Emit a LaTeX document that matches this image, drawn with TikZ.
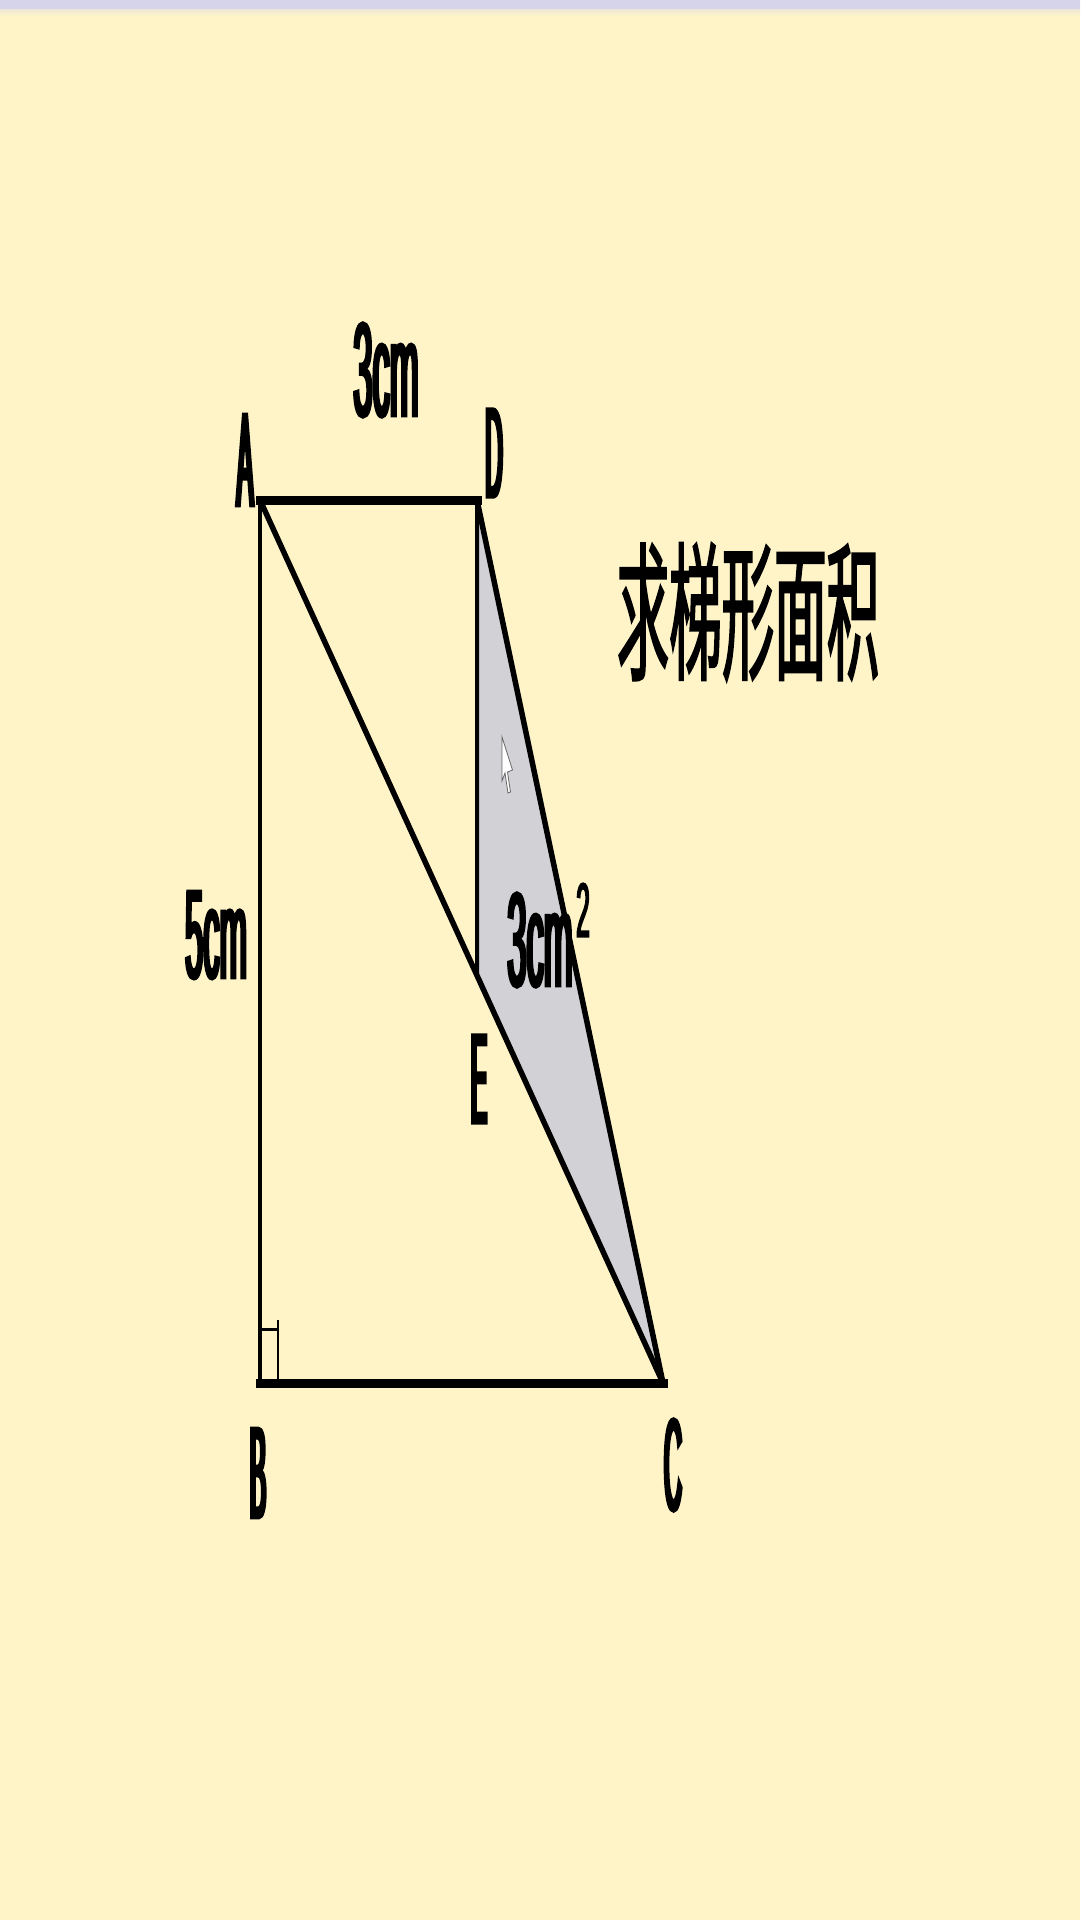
\documentclass[tikz,border=0pt]{standalone}
\usepackage{fontspec}
\usetikzlibrary{calc}
\setmainfont{Liberation Sans}
\newfontfamily\cjkfont{Noto Sans CJK SC}[FakeStretch=0.35, FakeBold=1.1]
\newfontfamily\lettfont{Liberation Sans}[FakeStretch=0.19, FakeBold=2.6]
\newfontfamily\cmfont{Liberation Sans}[FakeStretch=0.26, FakeBold=2.4]
\newfontfamily\supfont{Liberation Sans}[FakeStretch=0.32, FakeBold=2]
\newcommand\fsz[2]{{\fontsize{#1}{#1}\selectfont #2}}
\definecolor{bgcol}{RGB}{254,244,200}
\definecolor{bandcol}{RGB}{214,212,234}
\definecolor{greycol}{RGB}{210,210,214}
\tikzset{
  lab/.style={inner sep=0pt, text=black},
  thickside/.style={line width=9pt, line cap=rect},
  thinside/.style={line width=3.5pt},
  midside/.style={line width=5.5pt, line join=miter},
}
\begin{document}
\begin{tikzpicture}[x=1pt,y=-1pt]
\useasboundingbox (0,0) rectangle (1080,1920);
\fill[bgcol] (0,0) rectangle (1080,1920);
\shade[top color=bandcol, bottom color=bgcol] (0,0) rectangle (1080,16);
\fill[bandcol] (0,0) rectangle (1080,9);

\coordinate (A) at (260,500);
\coordinate (D) at (477,500);
\coordinate (B) at (260,1383);
\coordinate (C) at (663,1383);
\coordinate (E) at ($(A)!0.5385!(C)$);

% shaded triangle DEC
\fill[greycol] (D) -- (E) -- (C) -- cycle;

% sides
\draw[thinside] (A) -- (B);
\draw[line width=4pt] (D) -- (E);
\draw[midside] (A) -- (C);
\draw[midside] (D) -- (C);
\draw[thickside] (A) -- (D);
\draw[thickside] (B) -- (C);

% right-angle mark
\coordinate (R1) at (260,1329);
\coordinate (R2) at (278,1329);
\coordinate (R3) at (278,1320);
\coordinate (R4) at (278,1383);
\draw[line width=3pt] (R1) -- (R2);
\draw[line width=2.5pt] (R3) -- (R4);

% cursor
\coordinate (K) at (502,737);
\filldraw[fill=white, draw=gray!80!black, line width=0.8pt]
  (K) -- ++(0,44) -- ++(3,-8) -- ++(3,20) -- ++(2.5,-1) -- ++(-3,-20) -- ++(5,-2) -- cycle;

% labels
\node[lab] (lA) at (245,460) {\lettfont\fsz{133}{A}};
\node[lab] (lD) at (494,453) {\lettfont\fsz{128}{D}};
\node[lab] (lB) at (258,1473) {\lettfont\fsz{130}{B}};
\node[lab] (lC) at (673,1465) {\lettfont\fsz{130}{C}};
\node[lab] (lE) at (479,1079) {\lettfont\fsz{128}{E}};
\node[lab] (top) at (386,370) {\cmfont\fsz{133}{3cm}};
\node[lab] (left) at (216,935) {\cmfont\fsz{126}{5cm}};
\node[lab] (area) at (540,940) {\cmfont\fsz{133}{3cm}};
\node[lab] (sq) at (583,910) {\supfont\fsz{77}{2}};
\node[inner sep=0pt] (title) at (748,612) {\cjkfont\fsz{150}{求梯形面积}};
\end{tikzpicture}
\end{document}
